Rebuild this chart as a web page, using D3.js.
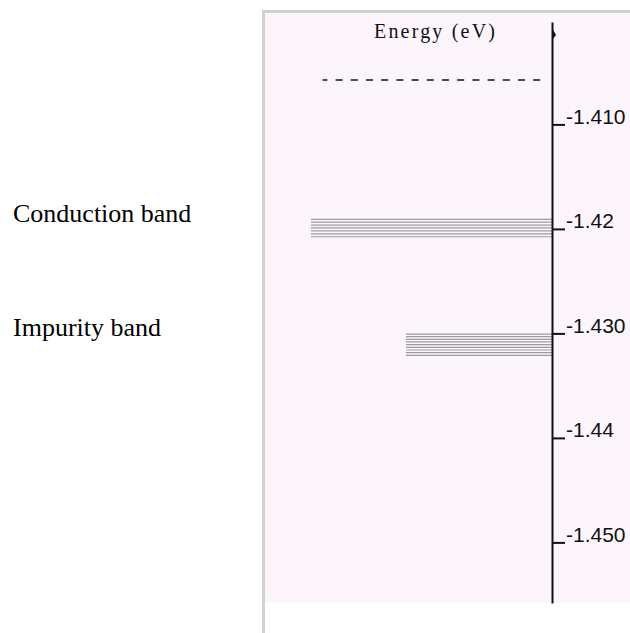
<!DOCTYPE html>
<html>
<head>
<meta charset="utf-8">
<script src="https://cdn.jsdelivr.net/npm/d3@7"></script>
<style>
  html, body { margin: 0; padding: 0; background: #ffffff; }
  svg { display: block; }
</style>
</head>
<body>
<svg id="chart" width="630" height="633"></svg>
<script>
// ---- data ----
const axisExtent = [-1.4002, -1.4558];                 // energy range covered by the axis (eV)
const tickValues = [-1.41, -1.42, -1.43, -1.44, -1.45];
const tickLabels = ["-1.410", "-1.42", "-1.430", "-1.44", "-1.450"];
const conductionLevels = [-1.41908, -1.41936, -1.41964, -1.41991, -1.42019, -1.42047, -1.42075];
const impurityLevels = [-1.43006, -1.43031, -1.43057, -1.43082, -1.43108, -1.43133, -1.43159, -1.43184, -1.43210];
const dashedLevel = -1.40575;
const bandNames = ["Conduction band", "Impurity band"];
const bandExtent = [100, 60.6];        // relative horizontal length of each band
const dashedExtent = [4.9, 95.2];      // relative start / end of the dashed level
const axisTitle = "Energy (eV)";

// ---- layout ----
const svg = d3.select("#chart");
const axisX = 552;

const y = d3.scaleLinear().domain(axisExtent).range([22, 603]);
const x = d3.scaleLinear().domain([0, 100]).range([axisX, axisX - 241]);

// panel background
svg.append("rect").attr("x", 262).attr("y", 10).attr("width", 368).attr("height", 623)
  .attr("fill", "#ffffff");
svg.append("rect").attr("x", 265).attr("y", 13).attr("width", 365).attr("height", 590)
  .attr("fill", "#fdf5fc");
// panel border (left and top)
svg.append("rect").attr("x", 262).attr("y", 10).attr("width", 368).attr("height", 3)
  .attr("fill", "#cfcfcf");
svg.append("rect").attr("x", 262).attr("y", 10).attr("width", 3).attr("height", 623)
  .attr("fill", "#d2d2d2");

// dashed level
svg.append("line")
  .attr("x1", x(dashedExtent[0])).attr("x2", x(dashedExtent[1]))
  .attr("y1", y(dashedLevel)).attr("y2", y(dashedLevel))
  .attr("stroke", "#111").attr("stroke-width", 1.6)
  .attr("stroke-dasharray", "7,8.2");

// bands
const bands = [conductionLevels, impurityLevels];
bands.forEach((levels, i) => {
  svg.append("g").selectAll("line").data(levels).join("line")
    .attr("x1", x(bandExtent[i])).attr("x2", x(0))
    .attr("y1", d => y(d)).attr("y2", d => y(d))
    .attr("stroke", "#9c9c9c").attr("stroke-width", 1.2);
});

// band names
bandNames.forEach((name, i) => {
  svg.append("text")
    .attr("x", 13).attr("y", y(bands[i][0]) + 2.3)
    .attr("font-family", "'Liberation Serif', 'Times New Roman', serif")
    .attr("font-size", 26)
    .attr("fill", "#000")
    .text(name);
});

// axis
const axis = d3.axisRight(y)
  .tickValues(tickValues)
  .tickFormat((d, i) => tickLabels[i])
  .tickSizeInner(13).tickSizeOuter(0).tickPadding(1);

const g = svg.append("g").attr("transform", `translate(${axisX},0)`).call(axis);
g.select(".domain").attr("stroke", "#111").attr("stroke-width", 2);
g.selectAll(".tick line").attr("stroke", "#111").attr("stroke-width", 2);
g.selectAll(".tick text")
  .attr("font-family", "'Liberation Sans', Arial, sans-serif")
  .attr("font-size", 21)
  .attr("fill", "#111")
  .attr("dy", "-1px");

// small marker at the top of the axis
svg.append("path")
  .attr("d", `M${axisX},${y(axisExtent[0]) + 6} L${axisX + 4},${y(axisExtent[0]) + 13} L${axisX},${y(axisExtent[0]) + 18} Z`)
  .attr("fill", "#111");

// axis title
svg.append("text")
  .attr("x", 374).attr("y", 38)
  .attr("font-family", "'Liberation Serif', 'Times New Roman', serif")
  .attr("font-size", 20)
  .attr("textLength", 121).attr("lengthAdjust", "spacing")
  .attr("fill", "#111")
  .text(axisTitle);
</script>
</body>
</html>
